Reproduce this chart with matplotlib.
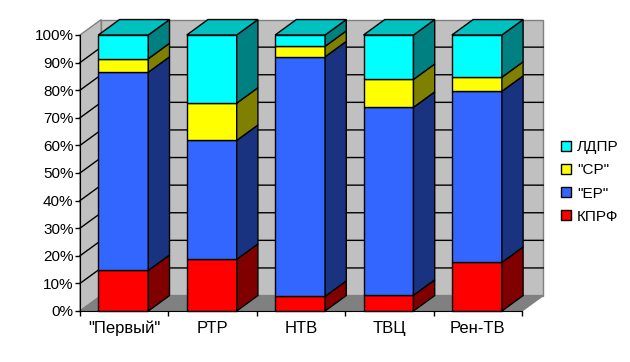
import numpy as np
import matplotlib.pyplot as plt
from matplotlib.patches import Polygon, Rectangle

plt.rcParams['font.family'] = ['Liberation Sans', 'DejaVu Sans']

channels = ['"Первый"', 'РТР', 'НТВ', 'ТВЦ', 'Рен-ТВ']
kprf = [14.7, 18.7, 5.3, 5.7, 17.6]
er = [71.8, 43.1, 86.8, 68.1, 62.0]
sr = [4.9, 13.5, 3.8, 10.1, 5.1]
ldpr = [8.6, 24.7, 4.1, 16.1, 15.3]

names = ['КПРФ', '"ЕР"', '"СР"', 'ЛДПР']
series = [kprf, er, sr, ldpr]
front_colors = ['#ff0000', '#3366ff', '#ffff00', '#00ffff']
side_colors = ['#800000', '#1a3380', '#808000', '#008080']
top_color = '#00c0c0'
wall = '#c0c0c0'
floor = '#808080'

# 3d offset of the back wall, in data units
dx = 0.24
dy = 5.6
bar_w = 0.565

W, H = 630, 362
fig = plt.figure(figsize=(W / 100, H / 100), dpi=100)
ax = fig.add_axes([80 / W, 1 - 311 / H, 442 / W, 276 / H])
ax.set_xlim(0, 5)
ax.set_ylim(0, 100)
ax.patch.set_visible(False)


def poly(pts, fc, ec='black', lw=1.0, z=2):
    ax.add_patch(Polygon(pts, closed=True, facecolor=fc, edgecolor=ec, linewidth=lw,
                         zorder=z, clip_on=False))


# walls and floor
poly([(0, 0), (0, 100), (dx, 100 + dy), (dx, dy)], wall, ec=floor, z=1)
poly([(dx, dy), (dx, 100 + dy), (5 + dx, 100 + dy), (5 + dx, dy)], wall, ec=floor, z=1)
poly([(0, 0), (5, 0), (5 + dx, dy), (dx, dy)], floor, ec=floor, z=1)

for g in range(10, 100, 10):
    ax.plot([0, dx, 5 + dx], [g, g + dy, g + dy], color='black', lw=1.0, zorder=1.5, clip_on=False)

# stacked bars, 3d look by hand
for i in range(len(channels)):
    left = i + 0.5 - bar_w / 2 - 0.01
    right = left + bar_w
    bottom = 0
    for s in range(len(series)):
        top = bottom + series[s][i]
        ax.add_patch(Rectangle((left, bottom), bar_w, top - bottom, facecolor=front_colors[s],
                               edgecolor='black', linewidth=1.0, zorder=3, clip_on=False))
        poly([(right, bottom), (right + dx, bottom + dy), (right + dx, top + dy), (right, top)],
             side_colors[s], z=3)
        bottom = top
    poly([(left, bottom), (left + dx, bottom + dy), (right + dx, bottom + dy), (right, bottom)],
         top_color, z=3)

ax.set_yticks(np.arange(0, 101, 10))
ax.set_yticklabels([str(v) + '%' for v in range(0, 101, 10)], fontsize=11)
ax.set_xticks(np.arange(0, 6))
ax.set_xticklabels([])
ax.set_xticks(np.arange(5) + 0.5, minor=True)
ax.set_xticklabels(channels, minor=True, fontsize=12)
ax.tick_params(axis='x', which='minor', length=0, pad=7)
ax.tick_params(axis='both', which='major', length=3.6, width=1.0, pad=1)

for sp in ['top', 'right']:
    ax.spines[sp].set_visible(False)
ax.spines['left'].set_zorder(4)
ax.spines['bottom'].set_zorder(4)

handles = [Rectangle((0, 0), 1, 1, facecolor=c, edgecolor='black', linewidth=1.0) for c in front_colors]
fig.legend(handles[::-1], names[::-1], loc='center left', frameon=False, fontsize=11,
           bbox_to_anchor=(561 / W, 1 - 182 / H), handlelength=0.65, handleheight=0.65,
           handletextpad=0.4, labelspacing=0.6, borderpad=0, borderaxespad=0)

fig.savefig('out.png', dpi=100)
